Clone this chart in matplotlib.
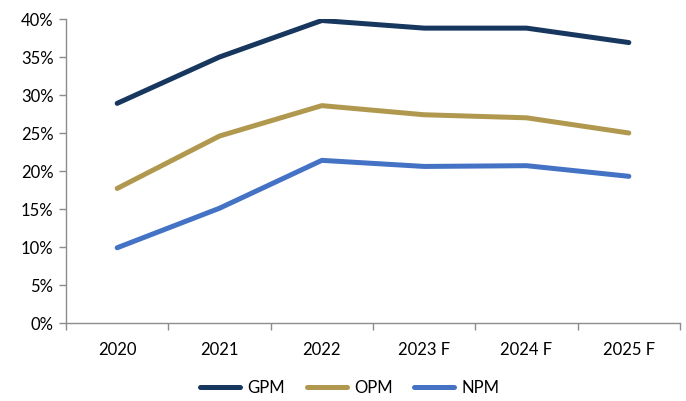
import matplotlib
matplotlib.use("Agg")
import matplotlib.pyplot as plt
from matplotlib.ticker import FixedLocator, PercentFormatter

years = ["2020", "2021", "2022", "2023 F", "2024 F", "2025 F"]
gpm = [28.9, 35.0, 39.8, 38.8, 38.8, 36.9]
opm = [17.7, 24.6, 28.6, 27.4, 27.0, 25.0]
npm = [9.9, 15.1, 21.4, 20.6, 20.7, 19.3]

series = [("GPM", gpm, "#17375E"), ("OPM", opm, "#B0994F"), ("NPM", npm, "#4472C4")]

plt.rcParams["font.family"] = ["Lato", "DejaVu Sans"]

fig = plt.figure(figsize=(6.86, 4.01), dpi=100)
ax = fig.add_axes([66 / 686, 1 - 323 / 401, 614 / 686, 304 / 401])

x = list(range(len(years)))
for name, vals, col in series:
    ax.plot(x, vals, color=col, lw=3.6, solid_capstyle="round",
            solid_joinstyle="round", label=name)

ax.set_xlim(-0.5, len(years) - 0.5)
ax.set_ylim(0, 40)
ax.set_yticks(range(0, 41, 5))
ax.yaxis.set_major_formatter(PercentFormatter(decimals=0))

ax.set_xticks(x)
ax.set_xticklabels(years)
ax.xaxis.set_minor_locator(FixedLocator([i - 0.5 for i in range(len(years) + 1)]))
ax.tick_params(axis="x", which="major", length=0, pad=14, labelsize=12, colors="#000000")
ax.tick_params(axis="x", which="minor", length=5, width=1, color="#8C8C8C", direction="out")
ax.tick_params(axis="y", which="major", length=5, width=1, color="#8C8C8C", pad=4,
               labelsize=12, labelcolor="#000000")

for s in ("top", "right"):
    ax.spines[s].set_visible(False)
for s in ("left", "bottom"):
    ax.spines[s].set_color("#8C8C8C")
    ax.spines[s].set_linewidth(1)

leg = fig.legend(loc="center", bbox_to_anchor=(0.51, 1 - 388 / 401), ncol=3, frameon=False,
                 fontsize=12, handlelength=2.4, handletextpad=0.45, columnspacing=1.3)
for h in leg.get_lines():
    h.set_linewidth(3.6)
    h.set_solid_capstyle("round")

fig.savefig("out.png", dpi=100)
